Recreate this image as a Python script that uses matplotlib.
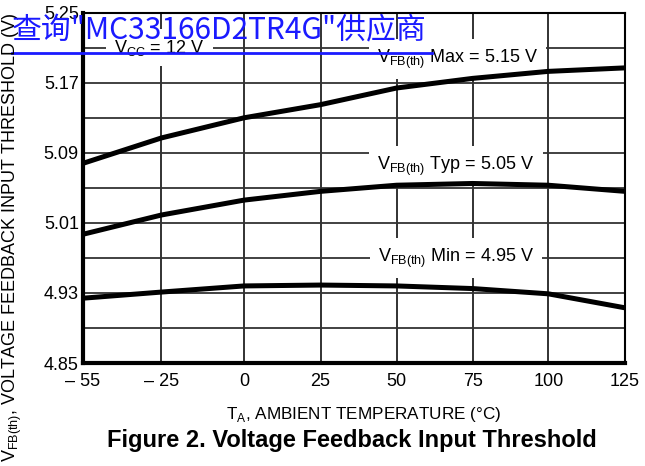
import numpy as np
import matplotlib
matplotlib.use("Agg")
import matplotlib.pyplot as plt
from matplotlib.lines import Line2D
from matplotlib import font_manager

# pick a narrow face if one is installed
names = {f.name for f in font_manager.fontManager.ttflist}
base = 'DejaVu Sans'
for cand in ('Liberation Sans Narrow', 'DejaVu Sans Condensed', 'Liberation Sans'):
    if cand in names:
        base = cand
        break
narrow = base != 'Liberation Sans'

plt.rcParams['font.family'] = [base, 'DejaVu Sans']
plt.rcParams['mathtext.fontset'] = 'custom'
plt.rcParams['mathtext.rm'] = base

fs = 14.5 if narrow else 13

# data
temps = [-55, -25, 0, 25, 50, 75, 100, 125]
v_max = [5.078, 5.107, 5.130, 5.145, 5.164, 5.175, 5.183, 5.187]
v_typ = [4.997, 5.019, 5.036, 5.046, 5.053, 5.055, 5.053, 5.046]
v_min = [4.924, 4.931, 4.938, 4.939, 4.938, 4.935, 4.929, 4.913]

x_ticks = [-55, -25, 0, 25, 50, 75, 100, 125]
x_tick_labels = ['– 55', '– 25', '0', '25', '50', '75', '100', '125']
y_ticks = [4.85, 4.93, 5.01, 5.09, 5.17, 5.25]
y_grid = [4.85, 4.89, 4.93, 4.97, 5.01, 5.05, 5.09, 5.13, 5.17, 5.21, 5.25]

# the printed axis is not quite linear: spacing of the grid columns
scale_t = np.array([-55, -25, 0, 25, 50, 75, 100, 125], dtype=float)
scale_p = np.array([0, 78.4, 161.0, 237.4, 313.4, 389.4, 465.0, 541.7])


def fwd(x):
    x = np.asarray(x, dtype=float)
    y = np.interp(x, scale_t, scale_p)
    y = np.where(x < scale_t[0], scale_p[0] + (x - scale_t[0]) * 2.6, y)
    y = np.where(x > scale_t[-1], scale_p[-1] + (x - scale_t[-1]) * 3.05, y)
    return y


def inv(p):
    p = np.asarray(p, dtype=float)
    x = np.interp(p, scale_p, scale_t)
    x = np.where(p < scale_p[0], scale_t[0] + (p - scale_p[0]) / 2.6, x)
    x = np.where(p > scale_p[-1], scale_t[-1] + (p - scale_p[-1]) / 3.05, x)
    return x


fig = plt.figure(figsize=(6.45, 4.66), dpi=100)
ax = fig.add_axes([83 / 645, 1 - 363 / 466, 542 / 645, 350.3 / 466])
ax.set_xscale('function', functions=(fwd, inv))
ax.set_xlim(-55, 125)
ax.set_ylim(4.85, 5.25)

# grid
for t in x_ticks:
    ax.axvline(t, color='#222222', lw=1.3, zorder=1)
for v in y_grid:
    ax.axhline(v, color='#333333', lw=1.3, zorder=1)

for vals in (v_max, v_typ, v_min):
    ax.plot(temps, vals, color='black', lw=3.6, solid_capstyle='butt', zorder=3)

ax.set_xticks(x_ticks)
ax.set_xticklabels(x_tick_labels)
ax.set_yticks(y_ticks)
ax.set_yticklabels(['%.2f' % v for v in y_ticks])
ax.tick_params(length=0, labelsize=fs, pad=3)
ax.tick_params(axis='x', pad=7)

for side in ('left', 'bottom'):
    ax.spines[side].set_linewidth(3)
for side in ('top', 'right'):
    ax.spines[side].set_linewidth(1.5)

box = dict(facecolor='white', edgecolor='none', pad=6)
ax.text(-43, 5.2043, r'V$_{\mathregular{CC}}$ = 12 V', fontsize=fs, ha='left', va='baseline',
        bbox=box, zorder=2)
ax.text(70, 5.193, r'V$_{\mathregular{FB(th)}}$ Max = 5.15 V', fontsize=fs, ha='center',
        va='baseline', bbox=box, zorder=2)
ax.text(69.5, 5.0706, r'V$_{\mathregular{FB(th)}}$ Typ = 5.05 V', fontsize=fs, ha='center',
        va='baseline', bbox=box, zorder=2)
ax.text(69.5, 4.9654, r'V$_{\mathregular{FB(th)}}$ Min = 4.95 V', fontsize=fs, ha='center',
        va='baseline', bbox=box, zorder=2)

fig.text(364 / 645, 1 - 414 / 466, r'T$_{\mathregular{A}}$, AMBIENT TEMPERATURE (°C)',
         fontsize=fs * 0.95, ha='center', va='center')
fig.text(352 / 645, 1 - 441 / 466, 'Figure 2. Voltage Feedback Input Threshold',
         fontsize=fs * 1.31, fontweight='bold', ha='center', va='center')
fig.text(12 / 645, 1 - 237 / 466,
         r'V$_{\mathregular{FB(th)}}$, VOLTAGE FEEDBACK INPUT THRESHOLD (V)',
         fontsize=fs * 1.0, rotation=90, ha='center', va='center')

# blue link overlay
fig.text(12 / 645, 1 - 31 / 466, '查询"MC33166D2TR4G"供应商', fontsize=21.5, color='#1a1aff',
         family=['Noto Sans CJK SC', 'DejaVu Sans'], ha='left', va='center')
fig.add_artist(Line2D([12 / 645, 432 / 645], [1 - 53 / 466, 1 - 53 / 466],
                      color='#1a1aff', lw=2, transform=fig.transFigure))

fig.savefig('out.png', dpi=100)
